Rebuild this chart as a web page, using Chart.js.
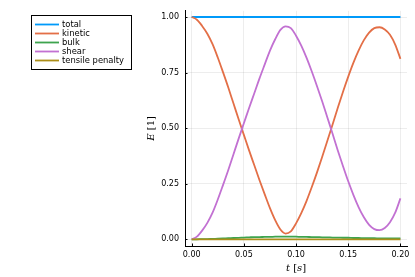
<!DOCTYPE html>
<html>
<head>
<meta charset="utf-8">
<script src="https://cdn.jsdelivr.net/npm/chart.js@4"></script>
<style>
  html, body { margin: 0; padding: 0; background: #fff; }
  #wrap { width: 415px; height: 277px; }
</style>
</head>
<body>
<div id="wrap"><canvas id="energyChart" width="415" height="277"></canvas></div>
<script>
// time samples [s]
const times = [0.000, 0.005, 0.010, 0.015, 0.020, 0.025, 0.030, 0.035, 0.040, 0.045,
               0.050, 0.055, 0.060, 0.065, 0.070, 0.075, 0.080, 0.085, 0.090, 0.095,
               0.100, 0.105, 0.110, 0.115, 0.120, 0.125, 0.130, 0.135, 0.140, 0.145,
               0.150, 0.155, 0.160, 0.165, 0.170, 0.175, 0.180, 0.185, 0.190, 0.195, 0.200];

const seriesNames = ['total', 'kinetic', 'bulk', 'shear', 'tensile penalty'];
const seriesColors = ['#009AFA', '#E36F47', '#3EA44E', '#C271D2', '#AC8E18'];

const total = [1, 1, 1, 1, 1, 1, 1, 1, 1, 1, 1, 1, 1, 1, 1, 1, 1, 1, 1, 1, 1,
               1, 1, 1, 1, 1, 1, 1, 1, 1, 1, 1, 1, 1, 1, 1, 1, 1, 1, 1, 1];
const kinetic = [1.000, 0.988, 0.960, 0.925, 0.878, 0.818, 0.752, 0.684, 0.612, 0.540,
                 0.470, 0.400, 0.333, 0.266, 0.202, 0.140, 0.086, 0.044, 0.026, 0.036,
                 0.072, 0.118, 0.172, 0.234, 0.300, 0.370, 0.443, 0.517, 0.592, 0.664,
                 0.732, 0.795, 0.850, 0.896, 0.930, 0.950, 0.954, 0.944, 0.920, 0.876, 0.812];
const bulk = [0.000, 0.000, 0.001, 0.001, 0.002, 0.003, 0.004, 0.005, 0.006, 0.007,
              0.008, 0.009, 0.010, 0.010, 0.011, 0.011, 0.012, 0.012, 0.012, 0.012,
              0.012, 0.011, 0.011, 0.010, 0.010, 0.009, 0.009, 0.008, 0.008, 0.007,
              0.007, 0.006, 0.006, 0.005, 0.005, 0.005, 0.004, 0.004, 0.004, 0.004, 0.004];
const shear = [0.000, 0.012, 0.039, 0.074, 0.120, 0.179, 0.244, 0.311, 0.382, 0.453,
               0.522, 0.591, 0.657, 0.724, 0.787, 0.849, 0.900, 0.942, 0.958, 0.950,
               0.916, 0.871, 0.817, 0.756, 0.690, 0.621, 0.548, 0.475, 0.400, 0.329,
               0.261, 0.199, 0.144, 0.099, 0.065, 0.046, 0.041, 0.051, 0.077, 0.120, 0.184];
const tensile = [0, 0, 0, 0, 0, 0, 0, 0, 0, 0, 0, 0, 0, 0, 0, 0, 0, 0, 0, 0, 0,
                 0, 0, 0, 0, 0, 0, 0, 0, 0, 0, 0, 0, 0, 0, 0, 0, 0, 0, 0, 0];

const xTicks = [0, 0.05, 0.10, 0.15, 0.20];
const yTicks = [0, 0.25, 0.50, 0.75, 1.00];

const allSeries = [total, kinetic, bulk, shear, tensile];

const datasets = allSeries.map((vals, i) => ({
    label: seriesNames[i],
    data: vals.map((v, j) => ({ x: times[j], y: v })),
    borderColor: seriesColors[i],
    backgroundColor: seriesColors[i],
    borderWidth: 1.8,
    pointRadius: 0,
    cubicInterpolationMode: 'monotone',
    order: 5 - i // later series drawn on top
}));

const TICK_FONT = { family: 'DejaVu Sans', size: 8 };

// legend box, inward ticks and the math-style axis titles
const decorations = {
    id: 'decorations',
    afterDraw(chart) {
        const c = chart.ctx;
        const area = chart.chartArea;
        const xs = chart.scales.x, ys = chart.scales.y;
        c.save();

        // inward ticks
        c.strokeStyle = '#000';
        c.lineWidth = 1;
        c.beginPath();
        xTicks.forEach(t => {
            const px = Math.round(xs.getPixelForValue(t)) + 0.5;
            c.moveTo(px, area.bottom);
            c.lineTo(px, area.bottom - 2.5);
        });
        yTicks.forEach(t => {
            const py = Math.round(ys.getPixelForValue(t)) + 0.5;
            c.moveTo(area.left, py);
            c.lineTo(area.left + 2.5, py);
        });
        c.stroke();

        // legend
        c.fillStyle = '#fff';
        c.fillRect(31, 15, 100, 54);
        c.strokeStyle = '#000';
        c.lineWidth = 1;
        c.strokeRect(31.5, 15.5, 100, 54);
        c.font = '8.4px "DejaVu Sans"';
        c.textBaseline = 'middle';
        c.textAlign = 'left';
        seriesNames.forEach((name, i) => {
            const y = 24.5 + i * 9;
            c.strokeStyle = seriesColors[i];
            c.lineWidth = 1.8;
            c.beginPath();
            c.moveTo(35, y);
            c.lineTo(59, y);
            c.stroke();
            c.fillStyle = '#000';
            c.fillText(name, 62, y);
        });

        // axis titles
        const drawParts = (parts, x, y) => {
            let w = 0;
            parts.forEach(p => { c.font = p[1]; w += c.measureText(p[0]).width; });
            let cx = x - w / 2;
            parts.forEach(p => {
                c.font = p[1];
                c.fillText(p[0], cx, y);
                cx += c.measureText(p[0]).width;
            });
        };
        const it = 'italic 10px "DejaVu Serif"';
        const up = '10px "DejaVu Serif"';
        c.fillStyle = '#000';
        c.textBaseline = 'middle';
        drawParts([['t', it], [' [', up], ['s', it], [']', up]], (area.left + area.right) / 2, 268);
        c.translate(151, (area.top + area.bottom) / 2);
        c.rotate(-Math.PI / 2);
        drawParts([['E', it], [' [1]', up]], 0, 0);
        c.restore();
    }
};

new Chart(document.getElementById('energyChart').getContext('2d'), {
    type: 'line',
    data: { datasets: datasets },
    options: {
        responsive: false,
        animation: false,
        events: [],
        layout: { padding: { left: 0, right: 8, top: 8, bottom: 0 } },
        plugins: {
            legend: { display: false },
            tooltip: { enabled: false }
        },
        scales: {
            x: {
                type: 'linear',
                min: -0.0064,
                max: 0.2063,
                afterFit(scale) { scale.height = 31; },
                afterBuildTicks(scale) { scale.ticks = xTicks.map(v => ({ value: v })); },
                ticks: {
                    font: TICK_FONT,
                    color: '#000',
                    padding: 4,
                    maxRotation: 0,
                    callback: v => v.toFixed(2)
                },
                grid: { color: 'rgba(0,0,0,0.07)', drawTicks: false },
                border: { display: true, color: '#000', width: 1 }
            },
            y: {
                type: 'linear',
                min: -0.03,
                max: 1.028,
                afterFit(scale) { scale.width = 185; },
                afterBuildTicks(scale) { scale.ticks = yTicks.map(v => ({ value: v })); },
                ticks: {
                    font: TICK_FONT,
                    color: '#000',
                    padding: 6,
                    callback: v => v.toFixed(2)
                },
                grid: { color: 'rgba(0,0,0,0.07)', drawTicks: false },
                border: { display: true, color: '#000', width: 1 }
            }
        }
    },
    plugins: [decorations]
});
</script>
</body>
</html>
